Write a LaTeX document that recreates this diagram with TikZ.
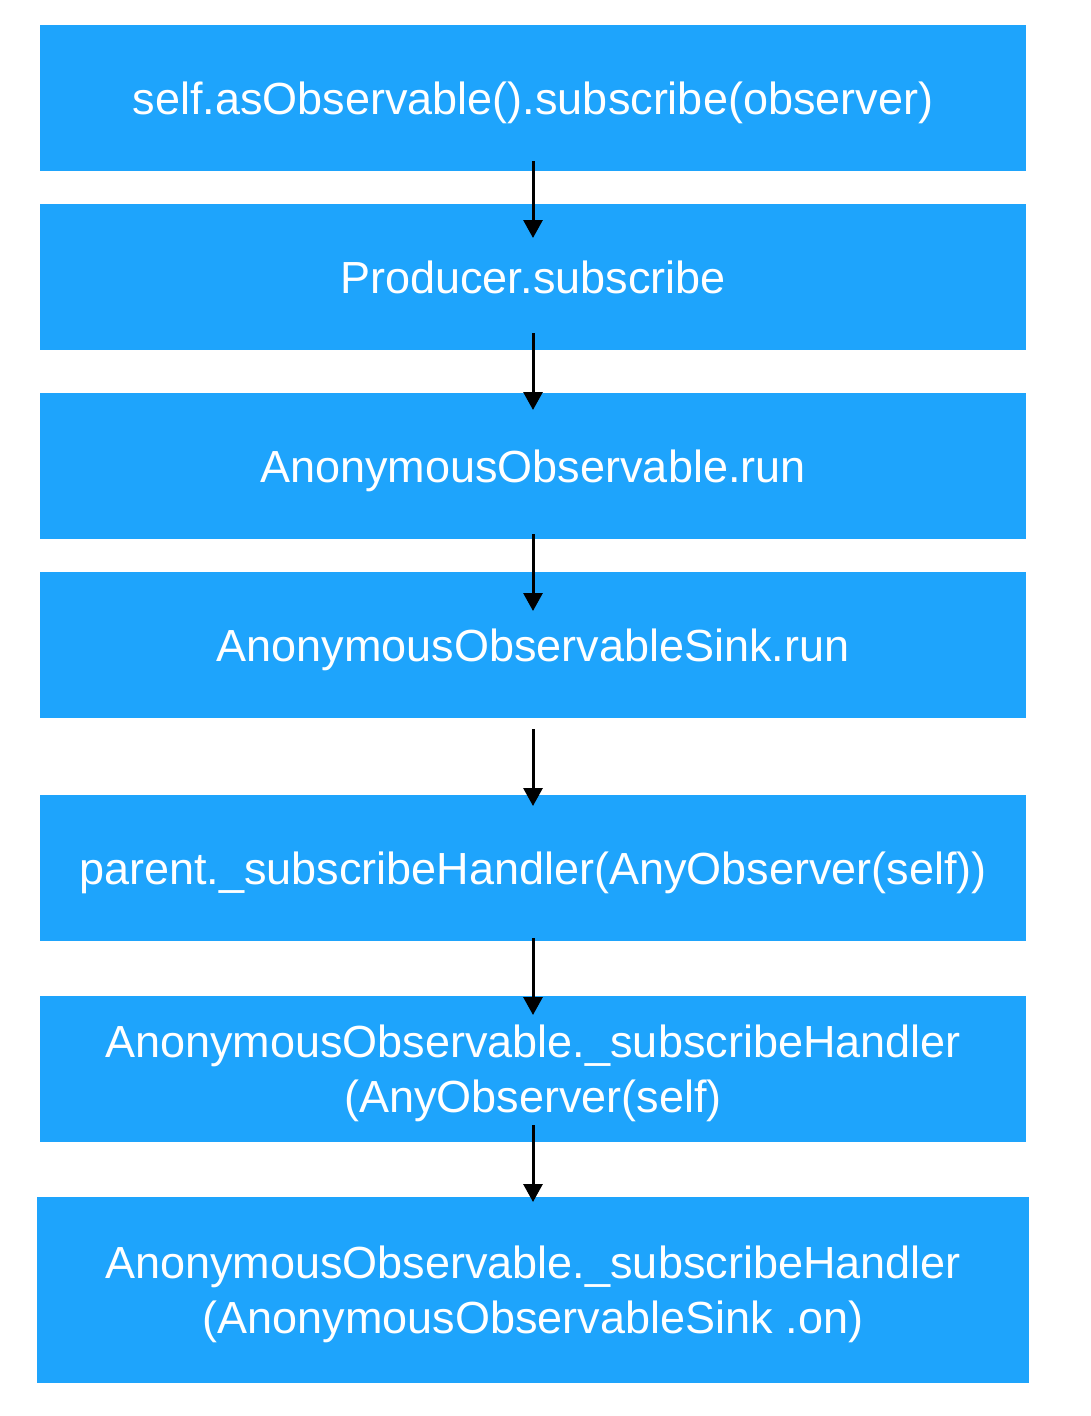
\documentclass[tikz,border=0pt]{standalone}
\usepackage{fontspec}
\setmainfont{Liberation Sans}
\usepackage{tikz}
\usetikzlibrary{arrows.meta, positioning}
\definecolor{boxblue}{RGB}{30,164,252}
\tikzset{
    block/.style={rectangle, fill=boxblue, text=white, align=center, minimum width=986pt, minimum height=146pt, inner sep=0pt, outer sep=0pt, text depth=0pt, font=\fontsize{45}{55}\selectfont},
    arrow/.style={line width=3pt, -{Triangle[width=19pt, length=18pt]}}
}
\begin{document}
\begin{tikzpicture}[x=1pt, y=1pt]

    \useasboundingbox (0,0) rectangle (1090,-1416);

    % Nodes
    \node[block] (P1) at (533,-98) {self.asObservable().subscribe(observer)};
    \node[block, below=33pt of P1] (P2) {Producer.subscribe};
    \node[block, below=43pt of P2] (P3) {AnonymousObservable.run};
    \node[block, below=33pt of P3] (P4) {AnonymousObservableSink.run};
    \node[block, below=77pt of P4] (P5) {parent.\_subscribeHandler(AnyObserver(self))};
    \node[block, below=55pt of P5] (P6) {AnonymousObservable.\_subscribeHandler\\(AnyObserver(self)};
    \node[block, below=55pt of P6, minimum width=992pt, minimum height=186pt] (P7) {AnonymousObservable.\_subscribeHandler\\(AnonymousObservableSink .on)};

    % Arrows
    \draw[arrow] ([yshift=10pt]P1.south) -- ([yshift=-34pt]P2.north);
    \draw[arrow] ([yshift=17pt]P2.south) -- ([yshift=-17pt]P3.north);
    \draw[arrow] ([yshift=5pt]P3.south) -- ([yshift=-39pt]P4.north);
    \draw[arrow] ([yshift=-11pt]P4.south) -- ([yshift=-11pt]P5.north);
    \draw[arrow] ([yshift=3pt]P5.south) -- ([yshift=-19pt]P6.north);
    \draw[arrow] ([yshift=17pt]P6.south) -- ([yshift=-5pt]P7.north);

\end{tikzpicture}
\end{document}
